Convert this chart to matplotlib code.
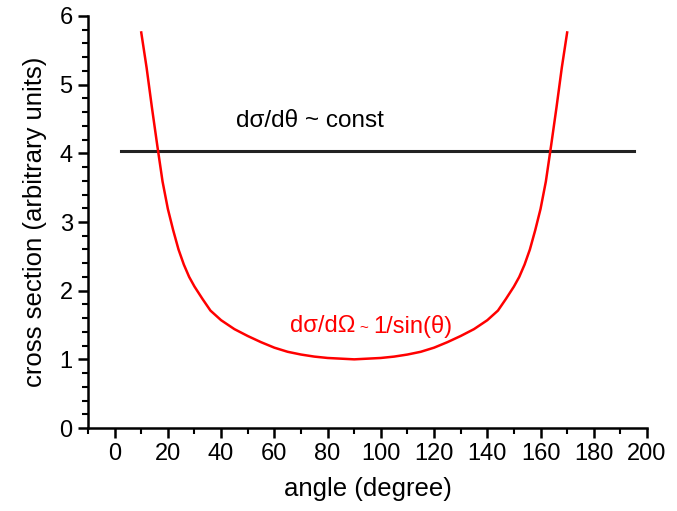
import matplotlib
matplotlib.use("Agg")
import matplotlib.pyplot as plt
from matplotlib.ticker import MultipleLocator

plt.rcParams['font.family'] = ['Liberation Sans', 'DejaVu Sans']

# red curve, values
angle = [10, 12, 14, 16, 18, 20, 22, 24, 26, 28, 30, 33, 36, 40, 45, 50, 55,
         60, 65, 70, 75, 80, 85, 90, 95, 100, 105, 110, 115, 120, 125, 130,
         135, 140, 144, 147, 150, 152, 154, 156, 158, 160, 162, 164, 166,
         168, 170]
cross = [5.76, 5.25, 4.67, 4.12, 3.59, 3.19, 2.88, 2.60, 2.38, 2.20, 2.06,
         1.88, 1.71, 1.57, 1.44, 1.34, 1.25, 1.17, 1.11, 1.07, 1.04, 1.02,
         1.01, 1.00, 1.01, 1.02, 1.04, 1.07, 1.11, 1.17, 1.25, 1.34, 1.44,
         1.57, 1.71, 1.88, 2.06, 2.20, 2.38, 2.60, 2.88, 3.19, 3.59, 4.12,
         4.67, 5.25, 5.76]

# black constant line
const_x = [2.5, 195]
const_y = [4.03, 4.03]

fig = plt.figure(figsize=(6.77, 5.11), dpi=100)
ax = fig.add_axes([0.130, 0.1624, 0.8257, 0.8063])

ax.plot(const_x, const_y, color='#222222', lw=2.2)
ax.plot(angle, cross, color='red', lw=1.8)

ax.text(45.5, 4.47, 'dσ/dθ ~ const', fontsize=17.5, color='black', va='center')

# red label, the tilde is drawn smaller
t1 = ax.text(66, 1.48, 'dσ/dΩ', fontsize=17, color='red', va='center')
t2 = ax.annotate('~', xy=(1, 0.5), xycoords=t1, xytext=(3, -1),
                 textcoords='offset points', fontsize=11, color='red',
                 va='center', ha='left')
ax.annotate('1/sin(θ)', xy=(1, 0.5), xycoords=t2, xytext=(3, 1),
            textcoords='offset points', fontsize=17, color='red',
            va='center', ha='left')

ax.set_xlim(-10, 200)
ax.set_ylim(0, 6)
ax.xaxis.set_major_locator(MultipleLocator(20))
ax.xaxis.set_minor_locator(MultipleLocator(10))
ax.yaxis.set_major_locator(MultipleLocator(1))
ax.yaxis.set_minor_locator(MultipleLocator(0.2))

for s in ['top', 'right']:
    ax.spines[s].set_visible(False)
for s in ['left', 'bottom']:
    ax.spines[s].set_linewidth(1.8)

ax.tick_params(which='major', direction='out', length=7, width=1.8, labelsize=17, pad=4)
ax.tick_params(which='minor', direction='out', length=4, width=1.5)

ax.set_xlabel('angle (degree)', fontsize=18.5)
ax.set_ylabel('cross section (arbitrary units)', fontsize=18.5)
ax.xaxis.set_label_coords(0.5, -0.118)
ax.yaxis.set_label_coords(-0.073, 0.5)

fig.savefig('out.png', dpi=100)
